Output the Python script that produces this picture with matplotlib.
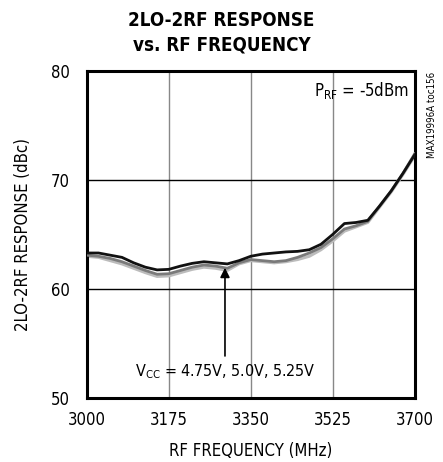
import numpy as np
import matplotlib.pyplot as plt

plt.rcParams['font.family'] = ['DejaVu Sans']
plt.rcParams['font.stretch'] = 'condensed'

# 2LO-2RF response vs RF frequency, three supply voltages
freq = [3000, 3025, 3050, 3075, 3100, 3125, 3150, 3175, 3200, 3225, 3250, 3275, 3300, 3325, 3350,
        3375, 3400, 3425, 3450, 3475, 3500, 3525, 3550, 3575, 3600, 3625, 3650, 3675, 3700]
vcc_475 = [63.3, 63.3, 63.1, 62.9, 62.4, 62.0, 61.75, 61.8, 62.1, 62.35, 62.5, 62.4, 62.3, 62.6, 63.0,
           63.2, 63.3, 63.4, 63.45, 63.6, 64.1, 65.0, 66.0, 66.1, 66.3, 67.6, 69.0, 70.6, 72.3]
vcc_500 = [63.1, 63.0, 62.8, 62.5, 62.1, 61.7, 61.35, 61.4, 61.7, 62.0, 62.2, 62.1, 61.9, 62.4, 62.7,
           62.6, 62.5, 62.6, 62.9, 63.3, 63.8, 64.6, 65.5, 65.8, 66.2, 67.6, 69.0, 70.6, 72.4]
vcc_525 = [63.0, 62.9, 62.6, 62.3, 61.9, 61.5, 61.15, 61.2, 61.5, 61.8, 62.0, 61.9, 61.7, 62.3, 62.6,
           62.5, 62.4, 62.5, 62.7, 63.0, 63.6, 64.4, 65.3, 65.7, 66.1, 67.5, 68.9, 70.5, 72.2]
xticks = [3000, 3175, 3350, 3525, 3700]
yticks = [50, 60, 70, 80]

fig = plt.figure(figsize=(4.43, 4.62), dpi=100)
ax = fig.add_axes([0.196, 0.1385, 0.740, 0.708])

for x in xticks[1:-1]:
    ax.axvline(x, color='#888888', lw=1.0, zorder=1)
for y in yticks[1:-1]:
    ax.axhline(y, color='black', lw=1.0, zorder=1)

ax.plot(freq, vcc_525, color='#bcbcbc', lw=2.2, zorder=2)
ax.plot(freq, vcc_500, color='#7a7a7a', lw=2.0, zorder=3)
ax.plot(freq, vcc_475, color='#111111', lw=2.0, zorder=4)

ax.set_xlim(3000, 3700)
ax.set_ylim(50, 80)
ax.set_xticks(xticks)
ax.set_yticks(yticks)
ax.tick_params(length=0, labelsize=12)
ax.tick_params(axis='x', pad=9)
ax.tick_params(axis='y', pad=12)
for s in ax.spines.values():
    s.set_linewidth(2.2)

ax.set_xlabel('RF FREQUENCY (MHz)', fontsize=12, labelpad=10)
ax.set_ylabel('2LO-2RF RESPONSE (dBc)', fontsize=12, labelpad=14)
fig.suptitle('2LO-2RF RESPONSE\nvs. RF FREQUENCY', fontsize=13.5, fontweight='bold',
             y=0.977, linespacing=1.4)

ax.annotate('', xy=(3295, 62.2), xytext=(3295, 53.6),
            arrowprops=dict(arrowstyle='-|>', color='black', lw=1.2, mutation_scale=14))
ax.text(3295, 52.4, r'V$_{\rm CC}$ = 4.75V, 5.0V, 5.25V', ha='center', va='center', fontsize=11.5)
ax.text(3688, 78.2, r'P$_{\rm RF}$ = -5dBm', ha='right', va='center', fontsize=12)
fig.text(0.975, 0.845, 'MAX19996A toc156', rotation=90, ha='center', va='top', fontsize=7)

fig.savefig('out.png', dpi=100)
